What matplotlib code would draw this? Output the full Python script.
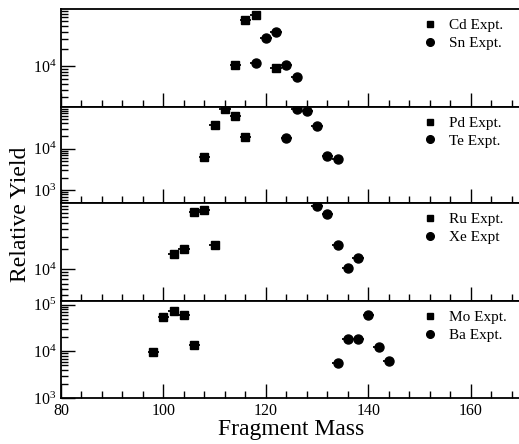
import numpy as np
import matplotlib
matplotlib.use("Agg")
import matplotlib.pyplot as plt
from matplotlib.lines import Line2D
from matplotlib.ticker import LogLocator, LogFormatterMathtext, MultipleLocator, NullFormatter

plt.rcParams['font.family'] = ['Liberation Serif', 'DejaVu Serif']
plt.rcParams['mathtext.fontset'] = 'custom'
plt.rcParams['mathtext.rm'] = 'Liberation Serif'
plt.rcParams['mathtext.it'] = 'Liberation Serif:italic'

# fragment masses and yields
cd_mass = [114, 116, 118, 122]
cd_yield = [1.08e4, 6.3e4, 7.7e4, 9.6e3]
sn_mass = [118, 120, 122, 124, 126]
sn_yield = [1.13e4, 3.06e4, 3.9e4, 1.08e4, 6.7e3]

pd_mass = [108, 110, 112, 114, 116]
pd_yield = [6.3e3, 3.6e4, 8.8e4, 6.1e4, 1.92e4]
te_mass = [124, 126, 128, 130, 132, 134]
te_yield = [1.78e4, 8.8e4, 8.0e4, 3.55e4, 6.5e3, 5.8e3]

ru_mass = [102, 104, 106, 108, 110]
ru_yield = [1.70e4, 2.03e4, 7.2e4, 7.9e4, 2.28e4]
xe_mass = [130, 132, 134, 136, 138]
xe_yield = [8.9e4, 6.8e4, 2.28e4, 1.04e4, 1.48e4]

mo_mass = [98, 100, 102, 104, 106]
mo_yield = [9.6e3, 5.5e4, 7.2e4, 5.9e4, 1.34e4]
ba_mass = [134, 136, 138, 140, 142, 144]
ba_yield = [5.7e3, 1.81e4, 1.81e4, 5.9e4, 1.24e4, 6.1e3]

panels = [
    (cd_mass, cd_yield, "Cd Expt.", sn_mass, sn_yield, "Sn Expt.", (2e3, 9.8e4)),
    (pd_mass, pd_yield, "Pd Expt.", te_mass, te_yield, "Te Expt.", (5e2, 9.9e4)),
    (ru_mass, ru_yield, "Ru Expt.", xe_mass, xe_yield, "Xe Expt", (3.3e3, 9.9e4)),
    (mo_mass, mo_yield, "Mo Expt.", ba_mass, ba_yield, "Ba Expt.", (1e3, 1.2e5)),
]

W, H = 519, 444
fig = plt.figure(figsize=(W / 100, H / 100), dpi=100)
tops = [9, 107, 203, 301]
bots = [107, 203, 301, 398]
left = 61
width = 461

for i, (m1, y1, l1, m2, y2, l2, ylim) in enumerate(panels):
    ax = fig.add_axes([left / W, (H - bots[i]) / H, width / W, (bots[i] - tops[i]) / H])
    ax.errorbar(m1, y1, xerr=1.1, fmt='s', color='black', ms=5.8, elinewidth=1.3, capsize=0)
    ax.errorbar(m2, y2, xerr=1.1, fmt='o', color='black', ms=6.5, elinewidth=1.3, capsize=0)
    ax.set_yscale('log')
    ax.set_ylim(*ylim)
    ax.set_xlim(80, 170)
    ax.xaxis.set_major_locator(MultipleLocator(20))
    ax.xaxis.set_minor_locator(MultipleLocator(4))
    ax.yaxis.set_major_locator(LogLocator(base=10))
    ax.yaxis.set_major_formatter(LogFormatterMathtext())
    ax.yaxis.set_minor_locator(LogLocator(base=10, subs=np.arange(2, 10)))
    ax.yaxis.set_minor_formatter(NullFormatter())
    ax.tick_params(which='both', direction='in', top=False, right=False, labelsize=11.5)
    ax.tick_params(which='major', length=10, width=1)
    ax.tick_params(which='minor', length=5, width=1)
    for s in ax.spines.values():
        s.set_linewidth(1.3)
    if i < 3:
        ax.tick_params(axis='x', labelbottom=False)
    else:
        ax.set_xlabel("Fragment Mass", fontsize=17, labelpad=0)
    handles = [Line2D([], [], marker='s', ls='none', color='black', ms=4.5),
               Line2D([], [], marker='o', ls='none', color='black', ms=5.5)]
    ax.legend(handles, [l1, l2], loc='upper left', bbox_to_anchor=(0.784, 0.9),
              frameon=False, fontsize=11, handlelength=1, handletextpad=0.77,
              labelspacing=0.25, borderpad=0, borderaxespad=0)

fig.text(0.04, (H - 214) / H, "Relative Yield", rotation=90, fontsize=17,
         ha='center', va='center')

fig.savefig("out.png", dpi=100)
